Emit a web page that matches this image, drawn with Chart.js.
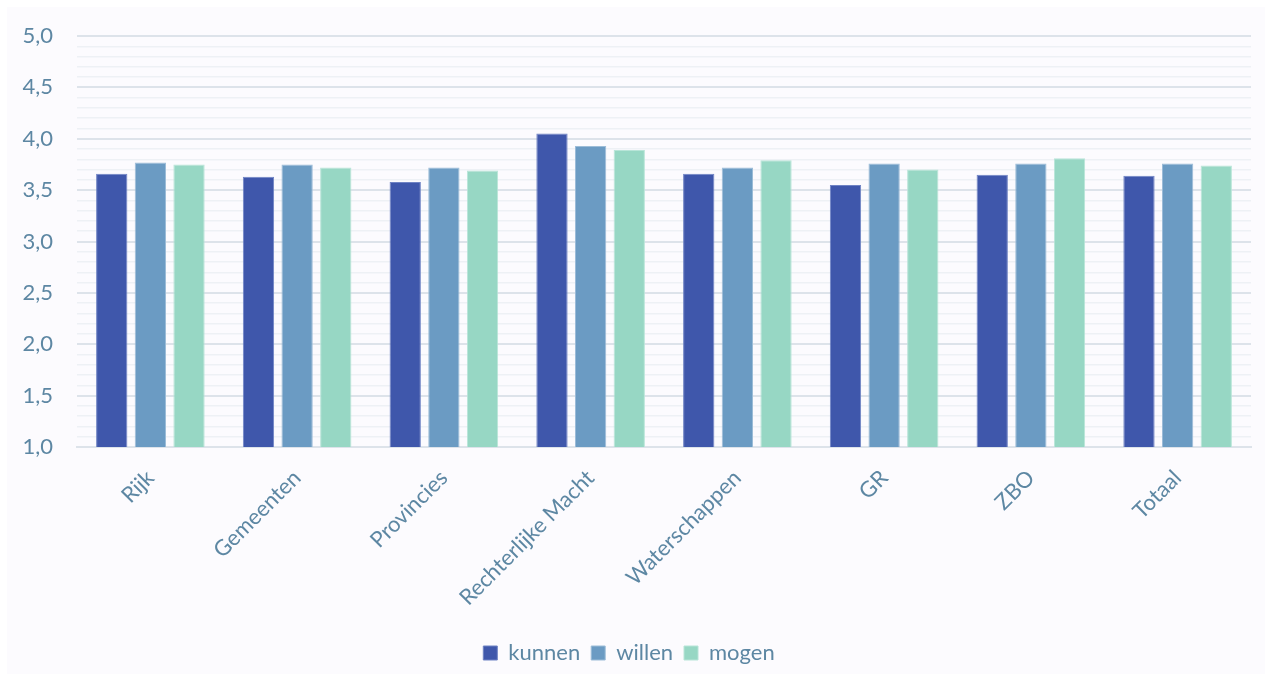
<!DOCTYPE html>
<html>
<head>
<meta charset="utf-8">
<script src="https://cdn.jsdelivr.net/npm/chart.js@4/dist/chart.umd.min.js"></script>
<style>
  html, body { margin: 0; padding: 0; background: #ffffff; }
  #wrap { position: absolute; left: 7px; top: 7px; width: 1258px; height: 667px; background: #fcfbfe; }
</style>
</head>
<body>
<div id="wrap"><canvas id="chart"></canvas></div>
<script>
// categories and values
const categories = ['Rijk', 'Gemeenten', 'Provincies', 'Rechterlijke Macht', 'Waterschappen', 'GR', 'ZBO', 'Totaal'];
const kunnen = [3.66, 3.63, 3.58, 4.05, 3.66, 3.55, 3.65, 3.64];
const willen = [3.77, 3.75, 3.72, 3.93, 3.72, 3.76, 3.76, 3.76];
const mogen  = [3.75, 3.72, 3.69, 3.89, 3.79, 3.70, 3.81, 3.74];
const yTicks = [1.0, 1.5, 2.0, 2.5, 3.0, 3.5, 4.0, 4.5, 5.0];

const textColor = '#5d87a3';
const font = { family: 'Lato, "Open Sans", sans-serif', size: 22 };

function isMajor(v) {
    return yTicks.some(t => Math.abs(t - v) < 1e-6);
}

const ctx = document.getElementById('chart').getContext('2d');
new Chart(ctx, {
    type: 'bar',
    data: {
        labels: categories,
        datasets: [
            { label: 'kunnen', data: kunnen, backgroundColor: '#3f57ab', borderColor: '#6f83c4', borderWidth: 1 },
            { label: 'willen', data: willen, backgroundColor: '#6b9bc3', borderColor: '#9dbdd8', borderWidth: 1 },
            { label: 'mogen', data: mogen, backgroundColor: '#97d7c4', borderColor: '#b8e5d8', borderWidth: 1 }
        ]
    },
    options: {
        responsive: true,
        maintainAspectRatio: false,
        animation: false,
        layout: { padding: { top: 29, right: 14, left: 0, bottom: 0 } },
        datasets: {
            bar: { categoryPercentage: 0.79, barPercentage: 0.81 }
        },
        plugins: {
            legend: {
                position: 'bottom',
                labels: {
                    color: textColor,
                    font: font,
                    boxWidth: 14,
                    boxHeight: 14,
                    padding: 11
                }
            },
            tooltip: { enabled: false }
        },
        scales: {
            x: {
                grid: { display: false },
                border: { color: '#dde3ea', width: 2 },
                ticks: {
                    color: textColor,
                    font: font,
                    minRotation: 45,
                    maxRotation: 45,
                    padding: 10
                },
                afterFit: s => { s.height = 184; s.paddingLeft = 0; s.paddingRight = 0; }
            },
            y: {
                min: 1,
                max: 5,
                border: { display: false },
                grid: {
                    drawTicks: false,
                    color: c => isMajor(c.tick.value) ? '#dde3ea' : '#eef1f5',
                    lineWidth: c => isMajor(c.tick.value) ? 2 : 1.5
                },
                ticks: {
                    stepSize: 0.1,
                    autoSkip: false,
                    color: textColor,
                    font: font,
                    padding: 24,
                    callback: v => isMajor(v) ? v.toFixed(1).replace('.', ',') : ''
                },
                afterFit: s => { s.width = 70; s.paddingTop = 0; s.paddingBottom = 0; }
            }
        }
    }
});
</script>
</body>
</html>
